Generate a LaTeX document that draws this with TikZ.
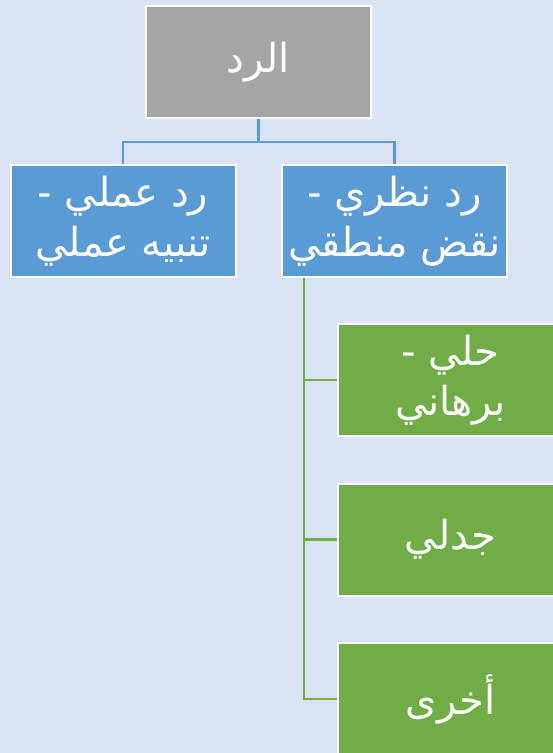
\documentclass[tikz,border=0pt]{standalone}
\usepackage{fontspec}
\TeXXeTstate=1
\newfontfamily\arabicfont[Script=Arabic]{DejaVu Sans}
\definecolor{bg}{HTML}{DAE3F3}
\definecolor{boxgray}{HTML}{A5A5A5}
\definecolor{boxblue}{HTML}{5B9BD5}
\definecolor{boxgreen}{HTML}{70AD47}
\tikzset{
  box/.style={draw=white, line width=2pt, minimum width=225pt, minimum height=112pt,
    inner sep=0pt, text=white, align=center, font=\arabicfont\fontsize{40}{50}\selectfont},
  grayfill/.style={box, fill=boxgray},
  bluefill/.style={box, fill=boxblue},
  greenfill/.style={box, fill=boxgreen},
  blueline/.style={draw=boxblue, line width=2.5pt},
  greenline/.style={draw=boxgreen, line width=2.5pt}
}
\begin{document}
\begin{tikzpicture}[x=1pt,y=-1pt]
\useasboundingbox (0,0) rectangle (553,753);
\fill[bg] (0,0) rectangle (553,753);
\begin{scope}
\clip (0,0) rectangle (553,753);
\node[grayfill] (top) at (258.5,62) {\beginR الرد\endR};
\node[bluefill] (lb) at (123,221) {\beginR رد عملي -\endR\\\beginR تنبيه عملي\endR};
\node[bluefill] (rb) at (394.5,221) {\beginR رد نظري -\endR\\\beginR نقض منطقي\endR};
\node[greenfill] (g1) at (450.5,380) {\beginR حلي -\endR\\\beginR برهاني\endR};
\node[greenfill] (g2) at (450.5,539.5) {\beginR جدلي\endR};
\node[greenfill] (g3) at (450.5,699) {\beginR أخرى\endR};
\draw[blueline] (top.south) -- ++(0,23) -| (lb.north);
\draw[blueline] (top.south) -- ++(0,23) -| (rb.north);
\draw[greenline] (rb.south west) ++(23,0) |- (g1.west);
\draw[greenline] (rb.south west) ++(23,0) |- (g2.west);
\draw[greenline] (rb.south west) ++(23,0) |- (g3.west);
\end{scope}
\end{tikzpicture}
\end{document}
